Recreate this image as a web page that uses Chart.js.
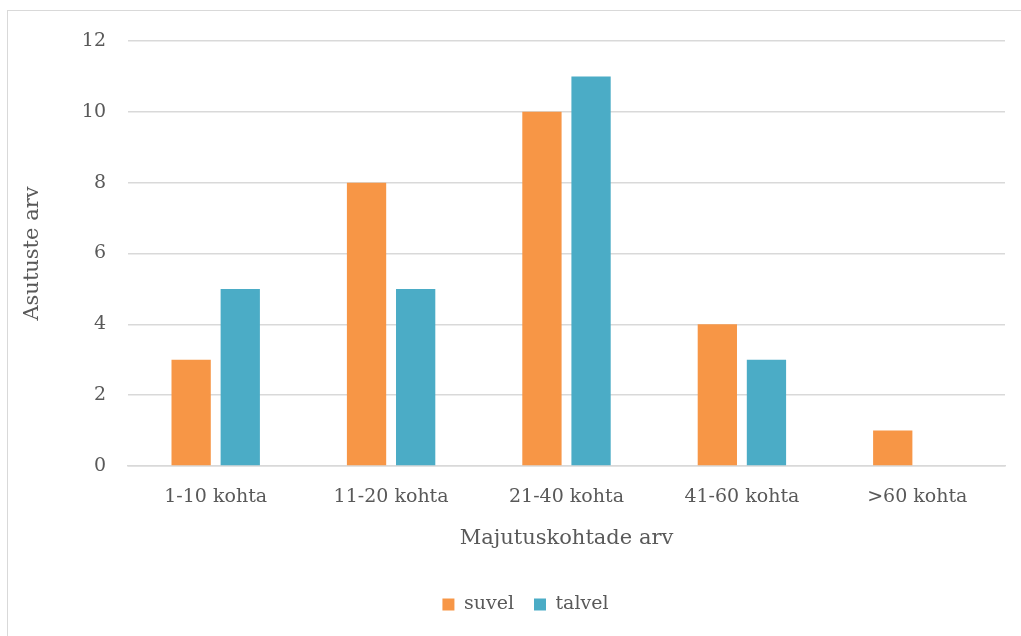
<!DOCTYPE html>
<html>
<head>
<meta charset="utf-8">
<script src="https://cdn.jsdelivr.net/npm/chart.js@4/dist/chart.umd.min.js"></script>
<style>
  html, body { margin: 0; padding: 0; background: #fff; overflow: hidden; }
  #wrap { position: relative; width: 1021px; height: 636px; }
  #frame { position: absolute; left: 7px; top: 10px; width: 1030px; height: 640px; border: 1px solid #d9d9d9; box-sizing: border-box; }
  canvas { position: absolute; left: 0; top: 0; }
</style>
</head>
<body>
<div id="wrap">
  <div id="frame"></div>
  <canvas id="chart" width="1021" height="636"></canvas>
</div>
<script>
const categories = ["1-10 kohta", "11-20 kohta", "21-40 kohta", "41-60 kohta", ">60 kohta"];
const suvel = [3, 8, 10, 4, 1];
const talvel = [5, 5, 11, 3, 0];
const yTicks = [0, 2, 4, 6, 8, 10, 12];

const FONT = "'DejaVu Serif', serif";
const TEXT = "#595959";

// legend in the original sits a bit right of centre
const shiftLegend = {
  id: "shiftLegend",
  afterLayout(c) {
    c.legend.left += 23;
    c.legend.right += 23;
  },
};

const ctx = document.getElementById("chart").getContext("2d");
const chart = new Chart(ctx, {
  type: "bar",
  data: {
    labels: categories,
    datasets: [
      { label: "suvel", data: suvel, backgroundColor: "#f79646", categoryPercentage: 0.56, barPercentage: 0.8 },
      { label: "talvel", data: talvel, backgroundColor: "#4bacc6", categoryPercentage: 0.56, barPercentage: 0.8 },
    ],
  },
  options: {
    responsive: false,
    animation: false,
    layout: { padding: { left: 0, right: 16, top: 41, bottom: 12 } },
    scales: {
      x: {
        grid: { display: false },
        border: { color: "#d9d9d9", width: 1.5 },
        ticks: { color: TEXT, font: { family: FONT, size: 19 }, padding: 12 },
        title: { display: true, text: "Majutuskohtade arv", color: TEXT, font: { family: FONT, size: 21 }, padding: { top: 5, bottom: 24 } },
      },
      y: {
        min: 0,
        max: 12,
        afterBuildTicks: (s) => { s.ticks = yTicks.map((v) => ({ value: v })); },
        afterFit: (s) => { s.width = 128; },
        grid: { color: "#d9d9d9", lineWidth: 1.5, drawTicks: false },
        border: { display: false },
        ticks: { color: TEXT, font: { family: FONT, size: 19 }, padding: 22 },
        title: { display: true, text: "Asutuste arv", color: TEXT, font: { family: FONT, size: 21 }, padding: { top: 20, bottom: 0 } },
      },
    },
    plugins: {
      legend: {
        position: "bottom",
        labels: { color: TEXT, font: { family: FONT, size: 19 }, boxWidth: 12, boxHeight: 12, padding: 20 },
      },
      tooltip: { enabled: false },
    },
  },
  plugins: [shiftLegend],
});
</script>
</body>
</html>
